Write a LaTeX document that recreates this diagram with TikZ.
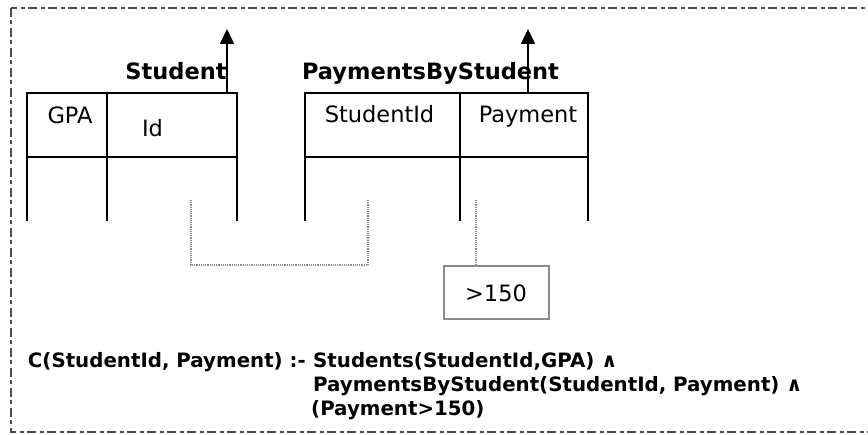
\documentclass[tikz,border=0pt]{standalone}
\usepackage{fontspec}
\setmainfont{DejaVu Sans}
\usetikzlibrary{arrows.meta}

\tikzset{
  frameline/.style={draw=black!70, line width=1.4pt,
    dash pattern=on 9pt off 3.5pt on 4pt off 3.5pt},
  tableline/.style={draw=black, line width=1.6pt},
  outarrow/.style={tableline, -{Triangle[width=14pt,length=15pt]}},
  joinline/.style={draw=black!45, line width=1.4pt, dash pattern=on 1.2pt off 1pt},
  condbox/.style={draw=black!45, line width=1.6pt, minimum width=105pt,
    minimum height=53pt, inner sep=0pt, anchor=north west},
  colname/.style={inner sep=0pt, anchor=base, font=\fontsize{22.5}{27}\selectfont},
  tabname/.style={inner sep=0pt, anchor=base, font=\bfseries\fontsize{22.5}{27}\selectfont},
  rule/.style={inner sep=0pt, anchor=base west, font=\bfseries\fontsize{19.8}{23}\selectfont},
  rulehead/.style={rule, anchor=base east},
}

\begin{document}
\begin{tikzpicture}[x=1pt, y=-1pt]
  \useasboundingbox (0,0) rectangle (868,435);
  \clip (0,0) rectangle (868,435);

  % dash-dotted enclosure
  \draw[frameline] (11,8) rectangle (900,432);

  % ---- Student table ----
  \coordinate (s-tl) at (27,93);
  \coordinate (s-tr) at (237,93);
  \coordinate (s-hl) at (27,157);
  \coordinate (s-hr) at (237,157);
  \coordinate (s-bl) at (27,221);
  \coordinate (s-br) at (237,221);
  \coordinate (s-dt) at (107,93);
  \coordinate (s-db) at (107,221);
  \draw[tableline] (s-bl) -- (s-tl) -- (s-tr) -- (s-br);
  \draw[tableline] (s-hl) -- (s-hr);
  \draw[tableline] (s-dt) -- (s-db);
  \node[tabname] (s-name) at (176,80) {Student};
  \node[colname] (s-gpa) at (70,124) {GPA};
  \node[colname] (s-id) at (152.5,137) {Id};
  \coordinate (s-out0) at (227,93);
  \coordinate (s-out1) at (227,29);
  \draw[outarrow] (s-out0) -- (s-out1);

  % ---- PaymentsByStudent table ----
  \coordinate (p-tl) at (305,93);
  \coordinate (p-tr) at (588,93);
  \coordinate (p-hl) at (305,157);
  \coordinate (p-hr) at (588,157);
  \coordinate (p-bl) at (305,221);
  \coordinate (p-br) at (588,221);
  \coordinate (p-dt) at (460,93);
  \coordinate (p-db) at (460,221);
  \draw[tableline] (p-bl) -- (p-tl) -- (p-tr) -- (p-br);
  \draw[tableline] (p-hl) -- (p-hr);
  \draw[tableline] (p-dt) -- (p-db);
  \node[tabname] (p-name) at (430.5,80) {PaymentsByStudent};
  \node[colname] (p-sid) at (379.5,123) {StudentId};
  \node[colname] (p-pay) at (528,123) {Payment};
  \coordinate (p-out0) at (528,93);
  \coordinate (p-out1) at (528,29);
  \draw[outarrow] (p-out0) -- (p-out1);

  % ---- join of Id with StudentId ----
  \coordinate (j-a) at (191,200);
  \coordinate (j-b) at (368,200);
  \draw[joinline] (j-a) -- (191,265) -- (368,265) -- (j-b);

  % ---- selection on Payment ----
  \node[condbox] (cond) at (443,265) {};
  \node[colname] (cond-txt) at (496,302) {>150};
  \coordinate (c-a) at (476,200);
  \draw[joinline] (c-a) -- (c-a |- cond.north);

  % ---- rule text: head, then body lines aligned on one column ----
  \node[rulehead] (r0) at (306,368) {C(StudentId, Payment) :-};
  \node[rule] (r1) at (313,368) {Students(StudentId,GPA) ∧};
  \node[rule] (r2) at (313,392) {PaymentsByStudent(StudentId, Payment) ∧};
  \node[rule] (r3) at (311,416) {(Payment>150)};
\end{tikzpicture}
\end{document}
